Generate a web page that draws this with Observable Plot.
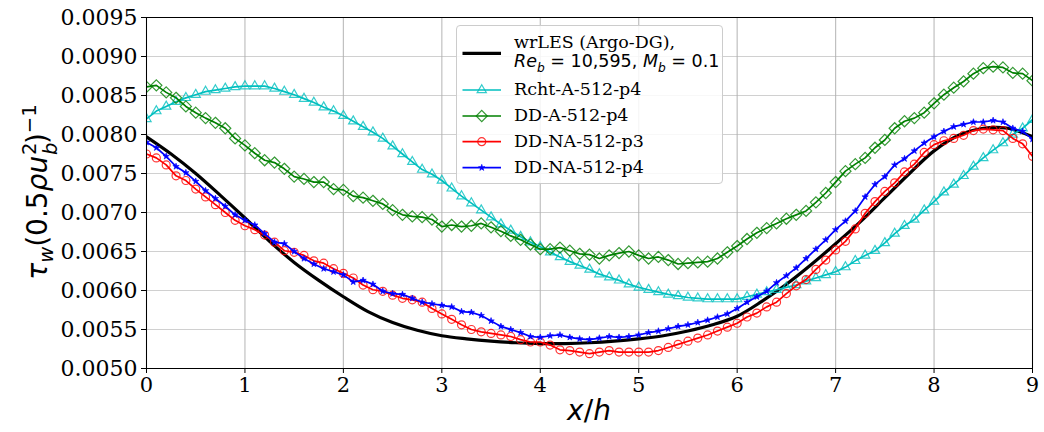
<!DOCTYPE html>
<html>
<head>
<meta charset="utf-8">
<script src="https://cdn.jsdelivr.net/npm/d3@7"></script>
<script src="https://cdn.jsdelivr.net/npm/@observablehq/plot@0.6"></script>
<style>
  body { margin: 0; background: white; }
  #wrap { position: relative; width: 1044px; height: 432px; overflow: hidden; }
  #wrap svg { position: absolute; left: 0; top: 0; }
  .math { font-family: "DejaVu Sans", sans-serif; white-space: nowrap; }
  .math sub, .math sup { font-size: 0.7em; line-height: 0; }
  .ss { display: inline-block; position: relative; width: 0.42em; height: 1em; }
  .ss > span { position: absolute; left: 0.03em; line-height: 1; }
  .ss .sp { top: -0.22em; }
  .ss .sb { top: 0.52em; }
  .ss span span { font-size: 0.7em; }
  #ylab { position: absolute; left: 36px; top: 192px; transform: translate(-50%, -50%) rotate(-90deg); font-size: 28px; }
  #xlab { position: absolute; left: 589px; top: 410px; transform: translate(-50%, -50%); font-size: 28px; }
  #legend { position: absolute; left: 456px; top: 25px; width: 267px; height: 159px; box-sizing: border-box;
            border: 1px solid #cccccc; border-radius: 4px; background: rgba(255,255,255,0.85); }
  #legend svg { position: absolute; left: 0; top: 0; }
  .ltxt { position: absolute; left: 57px; transform: translateY(-50%); font-family: "DejaVu Serif", serif; font-size: 17.5px; white-space: nowrap; line-height: 1; }
  .ltxt.math { font-family: "DejaVu Sans", sans-serif; }
</style>
</head>
<body>
<div id="wrap"></div>
<script>
// ---------- data ----------
const xTicks = [0, 1, 2, 3, 4, 5, 6, 7, 8, 9];
const yTicks = [0.0050, 0.0055, 0.0060, 0.0065, 0.0070, 0.0075, 0.0080, 0.0085, 0.0090, 0.0095];

// wrLES (Argo-DG) reference
const xRef = [0, 0.25, 0.5, 0.75, 1, 1.25, 1.5, 1.75, 2, 2.25, 2.5, 2.75, 3, 3.25, 3.5, 3.75, 4, 4.25, 4.5,
  4.75, 5, 5.25, 5.5, 5.75, 6, 6.25, 6.5, 6.75, 7, 7.25, 7.5, 7.75, 8, 8.25, 8.5, 8.75, 9];
const wrLES = [0.00797, 0.00775, 0.00750, 0.00722, 0.00693, 0.00663, 0.00636, 0.00613, 0.00592, 0.00573,
  0.00559, 0.00549, 0.00542, 0.00538, 0.00535, 0.00533, 0.00532, 0.00532, 0.00533, 0.00535, 0.00538,
  0.00542, 0.00548, 0.00556, 0.00567, 0.00586, 0.00608, 0.00633, 0.00660, 0.00688, 0.00719, 0.00750,
  0.00779, 0.00799, 0.00808, 0.00808, 0.00797];

// sampled simulations
const xSim = [0, 0.1, 0.2, 0.3, 0.4, 0.5, 0.6, 0.7, 0.8, 0.9, 1, 1.1, 1.2, 1.3, 1.4, 1.5, 1.6, 1.7, 1.8, 1.9,
  2, 2.1, 2.2, 2.3, 2.4, 2.5, 2.6, 2.7, 2.8, 2.9, 3, 3.1, 3.2, 3.3, 3.4, 3.5, 3.6, 3.7, 3.8, 3.9,
  4, 4.1, 4.2, 4.3, 4.4, 4.5, 4.6, 4.7, 4.8, 4.9, 5, 5.1, 5.2, 5.3, 5.4, 5.5, 5.6, 5.7, 5.8, 5.9,
  6, 6.1, 6.2, 6.3, 6.4, 6.5, 6.6, 6.7, 6.8, 6.9, 7, 7.1, 7.2, 7.3, 7.4, 7.5, 7.6, 7.7, 7.8, 7.9,
  8, 8.1, 8.2, 8.3, 8.4, 8.5, 8.6, 8.7, 8.8, 8.9, 9];

const rchtA512p4 = [0.00820, 0.00830, 0.00836, 0.00842, 0.00847, 0.00851, 0.00855, 0.00857, 0.00859, 0.00861,
  0.00862, 0.00862, 0.00862, 0.00859, 0.00855, 0.00851, 0.00846, 0.00841, 0.00835, 0.00830,
  0.00824, 0.00817, 0.00810, 0.00803, 0.00795, 0.00785, 0.00775, 0.00765, 0.00755, 0.00749,
  0.00741, 0.00731, 0.00721, 0.00712, 0.00703, 0.00694, 0.00685, 0.00677, 0.00669, 0.00662,
  0.00656, 0.00649, 0.00643, 0.00637, 0.00632, 0.00627, 0.00621, 0.00617, 0.00613, 0.00608,
  0.00604, 0.00601, 0.00598, 0.00595, 0.00593, 0.00591, 0.00590, 0.00589, 0.00589, 0.00589,
  0.00589, 0.00592, 0.00595, 0.00598, 0.00601, 0.00604, 0.00607, 0.00612, 0.00616, 0.00620,
  0.00624, 0.00630, 0.00638, 0.00645, 0.00651, 0.00661, 0.00673, 0.00683, 0.00691, 0.00703,
  0.00714, 0.00726, 0.00736, 0.00747, 0.00759, 0.00770, 0.00780, 0.00789, 0.00800, 0.00808, 0.00819];

const ddA512p4 = [0.00861, 0.00863, 0.00854, 0.00847, 0.00836, 0.00828, 0.00821, 0.00815, 0.00808, 0.00795,
  0.00786, 0.00776, 0.00767, 0.00764, 0.00756, 0.00746, 0.00743, 0.00739, 0.00739, 0.00730,
  0.00729, 0.00721, 0.00719, 0.00715, 0.00711, 0.00703, 0.00697, 0.00695, 0.00694, 0.00691,
  0.00682, 0.00684, 0.00682, 0.00683, 0.00686, 0.00681, 0.00676, 0.00670, 0.00665, 0.00659,
  0.00653, 0.00653, 0.00655, 0.00651, 0.00647, 0.00646, 0.00641, 0.00645, 0.00648, 0.00650,
  0.00645, 0.00641, 0.00643, 0.00639, 0.00634, 0.00635, 0.00636, 0.00637, 0.00641, 0.00649,
  0.00657, 0.00666, 0.00674, 0.00680, 0.00686, 0.00692, 0.00697, 0.00702, 0.00713, 0.00725,
  0.00739, 0.00753, 0.00762, 0.00770, 0.00783, 0.00793, 0.00808, 0.00817, 0.00821, 0.00828,
  0.00840, 0.00851, 0.00860, 0.00868, 0.00878, 0.00885, 0.00887, 0.00886, 0.00879, 0.00878, 0.00869];

const ddNA512p3 = [0.00775, 0.00770, 0.00761, 0.00747, 0.00741, 0.00730, 0.00720, 0.00710, 0.00700, 0.00690,
  0.00683, 0.00678, 0.00671, 0.00662, 0.00651, 0.00649, 0.00645, 0.00638, 0.00635, 0.00628,
  0.00622, 0.00616, 0.00607, 0.00601, 0.00599, 0.00594, 0.00590, 0.00588, 0.00585, 0.00577,
  0.00570, 0.00563, 0.00556, 0.00550, 0.00547, 0.00545, 0.00543, 0.00541, 0.00537, 0.00534,
  0.00534, 0.00530, 0.00524, 0.00523, 0.00521, 0.00519, 0.00521, 0.00523, 0.00521, 0.00521,
  0.00521, 0.00521, 0.00523, 0.00527, 0.00531, 0.00535, 0.00539, 0.00543, 0.00548, 0.00553,
  0.00558, 0.00566, 0.00571, 0.00579, 0.00585, 0.00596, 0.00606, 0.00614, 0.00627, 0.00639,
  0.00652, 0.00663, 0.00679, 0.00699, 0.00714, 0.00727, 0.00738, 0.00752, 0.00762, 0.00777,
  0.00787, 0.00792, 0.00795, 0.00799, 0.00805, 0.00807, 0.00806, 0.00805, 0.00795, 0.00788, 0.00772];

const ddNA512p4 = [0.00790, 0.00783, 0.00772, 0.00759, 0.00751, 0.00740, 0.00728, 0.00718, 0.00708, 0.00697,
  0.00690, 0.00684, 0.00673, 0.00662, 0.00660, 0.00650, 0.00641, 0.00634, 0.00628, 0.00624,
  0.00620, 0.00611, 0.00613, 0.00608, 0.00599, 0.00596, 0.00595, 0.00590, 0.00585, 0.00583,
  0.00581, 0.00579, 0.00573, 0.00572, 0.00568, 0.00561, 0.00554, 0.00550, 0.00546, 0.00541,
  0.00540, 0.00542, 0.00543, 0.00540, 0.00538, 0.00537, 0.00539, 0.00541, 0.00540, 0.00541,
  0.00543, 0.00546, 0.00548, 0.00551, 0.00554, 0.00556, 0.00559, 0.00562, 0.00566, 0.00570,
  0.00577, 0.00585, 0.00592, 0.00599, 0.00610, 0.00619, 0.00629, 0.00641, 0.00653, 0.00665,
  0.00678, 0.00689, 0.00702, 0.00720, 0.00736, 0.00746, 0.00761, 0.00769, 0.00779, 0.00789,
  0.00797, 0.00804, 0.00810, 0.00813, 0.00816, 0.00816, 0.00818, 0.00816, 0.00808, 0.00804, 0.00794];

const seriesNames = ["Rcht-A-512-p4", "DD-A-512-p4", "DD-NA-512-p3", "DD-NA-512-p4"];
const seriesValues = [rchtA512p4, ddA512p4, ddNA512p3, ddNA512p4];
const seriesColors = ["#00bfbf", "#008000", "#ff0000", "#0000ff"];
const seriesSymbols = ["triangle2", "diamond2", "circle", "star"];

// ---------- chart ----------
const refData = xRef.map((x, i) => ({x, y: wrLES[i]}));
const simData = seriesValues.map(vals => xSim.map((x, i) => ({x, y: vals[i]})));

const markerR = [4.4, 5.0, 4.0, 2.0];
const simMarks = [];
simData.forEach((d, k) => {
  simMarks.push(Plot.line(d, {x: "x", y: "y", stroke: seriesColors[k], strokeWidth: 1.7, clip: true}));
  const filled = seriesSymbols[k] === "star";
  simMarks.push(Plot.dot(d, {x: "x", y: "y", symbol: seriesSymbols[k], r: markerR[k],
    stroke: seriesColors[k], strokeWidth: filled ? 0.8 : 1.2, strokeOpacity: 0.8,
    fill: filled ? seriesColors[k] : "none", clip: true}));
});

const chart = Plot.plot({
  width: 1044, height: 432,
  marginLeft: 146, marginRight: 12, marginTop: 17, marginBottom: 64,
  x: {domain: [0, 9]},
  y: {domain: [0.005, 0.0095]},
  style: {background: "transparent", fontFamily: "DejaVu Serif", fontSize: "22px", color: "black"},
  marks: [
    Plot.gridY(yTicks, {stroke: "#b0b0b0", strokeOpacity: 0.6, strokeWidth: 1.2}),
    Plot.gridX(xTicks, {stroke: "#b0b0b0", strokeOpacity: 0.8, strokeWidth: 1.2}),
    Plot.line(refData, {x: "x", y: "y", stroke: "black", strokeWidth: 3.2, curve: "catmull-rom", clip: true}),
    ...simMarks,
    Plot.frame({stroke: "black", strokeWidth: 1}),
    Plot.axisX(xTicks, {tickSize: 5, tickPadding: 4, fontSize: 21, fontFamily: "DejaVu Serif", label: null}),
    Plot.axisY(yTicks, {tickSize: 5, tickPadding: 4, fontSize: 22, fontFamily: "DejaVu Serif",
      tickFormat: d3.format(".4f"), label: null})
  ]
});

const wrap = document.getElementById("wrap");
wrap.appendChild(chart);

// axis labels
const ylab = document.createElement("div");
ylab.id = "ylab"; ylab.className = "math";
ylab.innerHTML = '<i>τ</i><sub><i>w</i></sub>(0.5<i>ρu</i><span class="ss"><span class="sp"><span>2</span></span><span class="sb"><span><i>b</i></span></span></span>)<sup>−1</sup>';
wrap.appendChild(ylab);

const xlab = document.createElement("div");
xlab.id = "xlab"; xlab.className = "math";
xlab.innerHTML = '<i>x</i>/<i>h</i>';
wrap.appendChild(xlab);

// legend
const legend = document.createElement("div");
legend.id = "legend";
wrap.appendChild(legend);
const lsvg = d3.create("svg").attr("width", 267).attr("height", 159);
const rowsY = [27.3, 64, 90, 115.7, 141.7];
const lineX0 = 5.5, lineX1 = 44;
lsvg.append("line").attr("x1", lineX0).attr("x2", lineX1).attr("y1", rowsY[0]).attr("y2", rowsY[0])
  .attr("stroke", "black").attr("stroke-width", 3.2);
const symMap = {triangle2: d3.symbolTriangle2, diamond2: d3.symbolDiamond2, circle: d3.symbolCircle, star: d3.symbolStar};
seriesNames.forEach((n, k) => {
  const y = rowsY[k + 1];
  lsvg.append("line").attr("x1", lineX0).attr("x2", lineX1).attr("y1", y).attr("y2", y)
    .attr("stroke", seriesColors[k]).attr("stroke-width", 1.7);
  const filled = seriesSymbols[k] === "star";
  lsvg.append("path").attr("d", d3.symbol(symMap[seriesSymbols[k]], Math.PI * markerR[k] * markerR[k])())
    .attr("transform", `translate(${(lineX0 + lineX1) / 2},${y})`)
    .attr("stroke", seriesColors[k]).attr("stroke-width", filled ? 0.8 : 1.2).attr("stroke-opacity", 0.8)
    .attr("fill", filled ? seriesColors[k] : "none");
});
legend.appendChild(lsvg.node());

function addText(html, y, cls) {
  const t = document.createElement("div");
  t.className = "ltxt" + (cls ? " " + cls : "");
  t.style.top = y + "px";
  t.innerHTML = html;
  legend.appendChild(t);
}
addText("wrLES (Argo-DG),", 16.7);
addText('<i>Re</i><sub><i>b</i></sub> = 10,595, <i>M</i><sub><i>b</i></sub> = 0.1', 36, "math");
seriesNames.forEach((n, k) => addText(n, rowsY[k + 1]));
</script>
</body>
</html>
